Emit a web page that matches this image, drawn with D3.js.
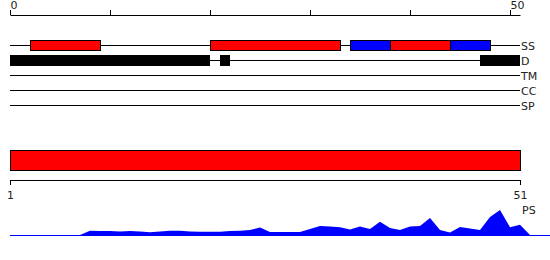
<!DOCTYPE html>
<html>
<head>
<meta charset="utf-8">
<script src="https://cdn.jsdelivr.net/npm/d3@7"></script>
<style>
  body { margin: 0; background: #fff; }
  text { font-family: 'DejaVu Sans', sans-serif; font-size: 11px; fill: #222; }
</style>
</head>
<body>
<script>
// protein feature view, d3 v7
var seqLength = 51;
var tracks = ['SS', 'D', 'TM', 'CC', 'SP'];

// secondary structure: h = helix (red), e = strand (blue)
var ssStart = [2, 20, 34, 38, 44];
var ssEnd   = [9, 33, 38, 44, 48];
var ssType  = ['h', 'h', 'e', 'h', 'e'];

// disorder
var dStart = [0, 21, 47];
var dEnd   = [20, 22, 51];

var topTicks = [0, 10, 20, 30, 40, 50];
var topLabels = ['0', '', '', '', '', '50'];
var bottomTicks = [1, 51];

// PS profile, one value per position
var psValues = [0, 0, 0, 0, 0, 0, 0, 0, 0.14, 0.13, 0.13, 0.12, 0.13, 0.12, 0.09, 0.12,
  0.14, 0.14, 0.12, 0.11, 0.11, 0.11, 0.13, 0.14, 0.17, 0.25, 0.10, 0.10, 0.10, 0.10,
  0.20, 0.30, 0.28, 0.26, 0.18, 0.28, 0.20, 0.44, 0.23, 0.17, 0.28, 0.30, 0.57, 0.17,
  0.08, 0.27, 0.22, 0.17, 0.60, 0.83, 0.26, 0.34, 0];

var g = {};
g.screen = {'width': 550, 'height': 260};
var colors = {'h': '#ff0000', 'e': '#0000ff'};

var svg = d3.select('body').append('svg')
  .attr('width', g.screen.width)
  .attr('height', g.screen.height);

var x = d3.scaleLinear().domain([0, seqLength]).range([10, 520]);
var trackY = d3.scalePoint().domain(tracks).range([45, 105]);

// top axis
var topAxis = d3.axisTop(x)
  .tickValues(topTicks)
  .tickSizeInner(5)
  .tickSizeOuter(0)
  .tickFormat(function(d, i){ return topLabels[i]; });

var ta = svg.append('g').attr('transform', 'translate(0,15)').call(topAxis);
ta.selectAll('text').attr('text-anchor', 'start').attr('y', -6).attr('dy', 0)
  .style('font-size', '11px').style('font-family', "'DejaVu Sans', sans-serif");
ta.select('.domain').attr('stroke', '#000');

// track lines + labels
svg.selectAll('line.track').data(tracks).enter().append('line')
  .attr('class', 'track')
  .attr('x1', x(0)).attr('x2', x(seqLength))
  .attr('y1', function(d){ return trackY(d) + 0.5; })
  .attr('y2', function(d){ return trackY(d) + 0.5; })
  .attr('stroke', '#000');

svg.selectAll('text.track').data(tracks).enter().append('text')
  .attr('class', 'track')
  .attr('x', x(seqLength) + 1)
  .attr('y', function(d){ return trackY(d) + 4.5; })
  .text(function(d){ return d; });

// SS boxes
var ss = ssStart.map(function(s, i){ return {start: s, end: ssEnd[i], type: ssType[i]}; });
svg.selectAll('rect.ss').data(ss).enter().append('rect')
  .attr('class', 'ss')
  .attr('x', function(d){ return x(d.start) + 0.5; })
  .attr('y', trackY('SS') - 4.5)
  .attr('width', function(d){ return x(d.end) - x(d.start); })
  .attr('height', 10)
  .attr('fill', function(d){ return colors[d.type]; })
  .attr('stroke', '#000');

// disorder boxes
var dis = dStart.map(function(s, i){ return {start: s, end: dEnd[i]}; });
svg.selectAll('rect.dis').data(dis).enter().append('rect')
  .attr('class', 'dis')
  .attr('x', function(d){ return x(d.start); })
  .attr('y', trackY('D') - 5)
  .attr('width', function(d){ return x(d.end) - x(d.start); })
  .attr('height', 11)
  .attr('fill', '#000');

// full length bar
var xb = d3.scaleLinear().domain([1, seqLength]).range([10, 520]);
svg.append('rect')
  .attr('x', xb(1) + 0.5).attr('y', 150.5)
  .attr('width', xb(seqLength) - xb(1)).attr('height', 20)
  .attr('fill', '#ff0000').attr('stroke', '#000');

var bottomAxis = d3.axisBottom(xb)
  .tickValues(bottomTicks)
  .tickSizeInner(5)
  .tickSizeOuter(0)
  .tickFormat(d3.format('d'));
var ba = svg.append('g').attr('transform', 'translate(0,180)').call(bottomAxis);
ba.selectAll('text').attr('y', 11).attr('dy', '0.71em')
  .style('font-size', '11px').style('font-family', "'DejaVu Sans', sans-serif");
ba.select('.domain').attr('stroke', '#000');

// PS area
var px = d3.scaleLinear().domain([0, psValues.length - 1]).range([10, 530]);
var py = d3.scaleLinear().domain([0, 1]).range([235, 205]);

svg.append('line')
  .attr('x1', 10).attr('x2', 550)
  .attr('y1', 235.5).attr('y2', 235.5)
  .attr('stroke', '#0000ff');

var area = d3.area()
  .x(function(d, i){ return px(i); })
  .y0(py(0))
  .y1(function(d){ return py(d); });

svg.append('path')
  .datum(psValues)
  .attr('d', area)
  .attr('fill', '#0000ff');

svg.append('text')
  .attr('x', 522).attr('y', 214)
  .text('PS');
</script>
</body>
</html>
